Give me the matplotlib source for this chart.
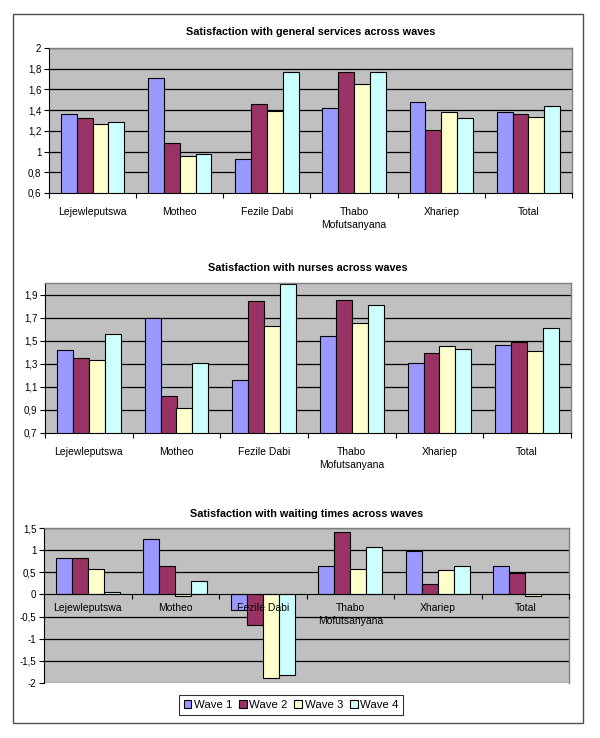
import numpy as np
import matplotlib
matplotlib.use("Agg")
import matplotlib.pyplot as plt
from matplotlib.patches import Rectangle
from matplotlib.ticker import FuncFormatter

plt.rcParams['font.family'] = ['Liberation Sans', 'DejaVu Sans']

districts = ["Lejewleputswa", "Motheo", "Fezile Dabi", "Thabo\nMofutsanyana", "Xhariep", "Total"]
waves = ["Wave 1", "Wave 2", "Wave 3", "Wave 4"]
colors = ["#9999FF", "#993366", "#FFFFCC", "#CCFFFF"]

# general services, rows = waves
general = [
    [1.36, 1.71, 0.93, 1.42, 1.48, 1.38],
    [1.32, 1.08, 1.46, 1.77, 1.21, 1.36],
    [1.27, 0.96, 1.39, 1.65, 1.38, 1.33],
    [1.29, 0.98, 1.77, 1.77, 1.32, 1.44],
]
nurses = [
    [1.42, 1.70, 1.16, 1.54, 1.31, 1.46],
    [1.35, 1.02, 1.84, 1.85, 1.39, 1.49],
    [1.33, 0.92, 1.63, 1.65, 1.45, 1.41],
    [1.56, 1.31, 1.99, 1.81, 1.43, 1.61],
]
waiting = [
    [0.83, 1.26, -0.36, 0.65, 0.98, 0.65],
    [0.83, 0.65, -0.68, 1.41, 0.23, 0.49],
    [0.58, -0.04, -1.89, 0.58, 0.55, -0.04],
    [0.06, 0.30, -1.83, 1.06, 0.65, 0.02],
]

titles = ["Satisfaction with general services across waves",
          "Satisfaction with nurses across waves",
          "Satisfaction with waiting times across waves"]


def comma_fmt(v, pos):
    s = ("%.1f" % v).rstrip('0').rstrip('.')
    if s == "-0":
        s = "0"
    return s.replace('.', ',')


def draw_chart(fig, rect, data, title, title_y, ylim, yticks, zero_axis=False):
    ax = fig.add_axes(rect)
    ax.set_facecolor("#C0C0C0")
    if zero_axis:
        # x axis crosses at 0 (set before the ticks, it resets them)
        ax.spines['bottom'].set_position(('data', 0))
    x = np.arange(len(districts))
    w = 1 / 5.5
    for i, vals in enumerate(data):
        ax.bar(x + (i - 1.5) * w, vals, width=w, color=colors[i],
               edgecolor="black", linewidth=0.8, zorder=2)
    ax.set_xlim(-0.5, len(districts) - 0.5)
    ax.set_ylim(*ylim)
    ax.set_yticks(yticks)
    ax.yaxis.set_major_formatter(FuncFormatter(comma_fmt))
    # gridlines by hand so the tick labels can stay above the bars
    for t in yticks:
        if t > ylim[0] + 1e-9 and abs(t) > 1e-9 or (not zero_axis and t > ylim[0] + 1e-9):
            ax.axhline(t, color="black", linewidth=0.9, zorder=1)
    ax.set_axisbelow(False)

    # category boundaries as major ticks, names on minor ticks
    ax.set_xticks(np.arange(len(districts) + 1) - 0.5)
    ax.set_xticklabels([])
    ax.set_xticks(x, minor=True)
    ax.set_xticklabels(districts, minor=True, fontsize=7.5, linespacing=1.45)
    ax.tick_params(axis='x', which='major', length=3.5, width=0.8, direction='out')
    ax.tick_params(axis='x', which='minor', length=0, pad=6 if zero_axis else 10)
    ax.tick_params(axis='y', length=3.5, width=0.8, pad=2, labelsize=7)

    for s in ['top', 'right']:
        ax.spines[s].set_color("#808080")
        ax.spines[s].set_linewidth(1.0)
    ax.spines['left'].set_color("black")
    ax.spines['bottom'].set_color("black")
    if zero_axis:
        ax.axhline(ylim[0], color="#808080", linewidth=1.0, zorder=1)

    fig.text(rect[0] + rect[2] / 2, title_y, title, ha='center', va='center',
             fontsize=7.8, fontweight='bold')
    return ax


fig = plt.figure(figsize=(6, 7.38), dpi=100)

# outer frame
fig.patches.append(Rectangle((13 / 600, 1 - 723 / 738), 570 / 600, 709 / 738,
                             transform=fig.transFigure, fill=False,
                             edgecolor="#505050", linewidth=1.0))

draw_chart(fig, [49 / 600, 1 - 193 / 738, 523 / 600, 145 / 738], general, titles[0],
           1 - 32 / 738, (0.6, 2.0), np.arange(0.6, 2.01, 0.2))
draw_chart(fig, [45 / 600, 1 - 433 / 738, 526 / 600, 150 / 738], nurses, titles[1],
           1 - 268 / 738, (0.7, 2.0), np.arange(0.7, 1.91, 0.2))
draw_chart(fig, [44 / 600, 1 - 683 / 738, 525 / 600, 155 / 738], waiting, titles[2],
           1 - 514 / 738, (-2.0, 1.5), np.arange(-2.0, 1.51, 0.5), zero_axis=True)

handles = [Rectangle((0, 0), 1, 1, facecolor=c, edgecolor="black", linewidth=0.8)
           for c in colors]
leg = fig.legend(handles, waves, loc='center', bbox_to_anchor=(291 / 600, 1 - 705 / 738),
                 ncol=4, fontsize=8.2, frameon=True, fancybox=False, handlelength=0.7,
                 handleheight=0.7, handletextpad=0.2, columnspacing=0.6,
                 borderpad=0.4)
leg.get_frame().set_edgecolor("black")
leg.get_frame().set_linewidth(0.8)

fig.savefig("out.png", dpi=100)
